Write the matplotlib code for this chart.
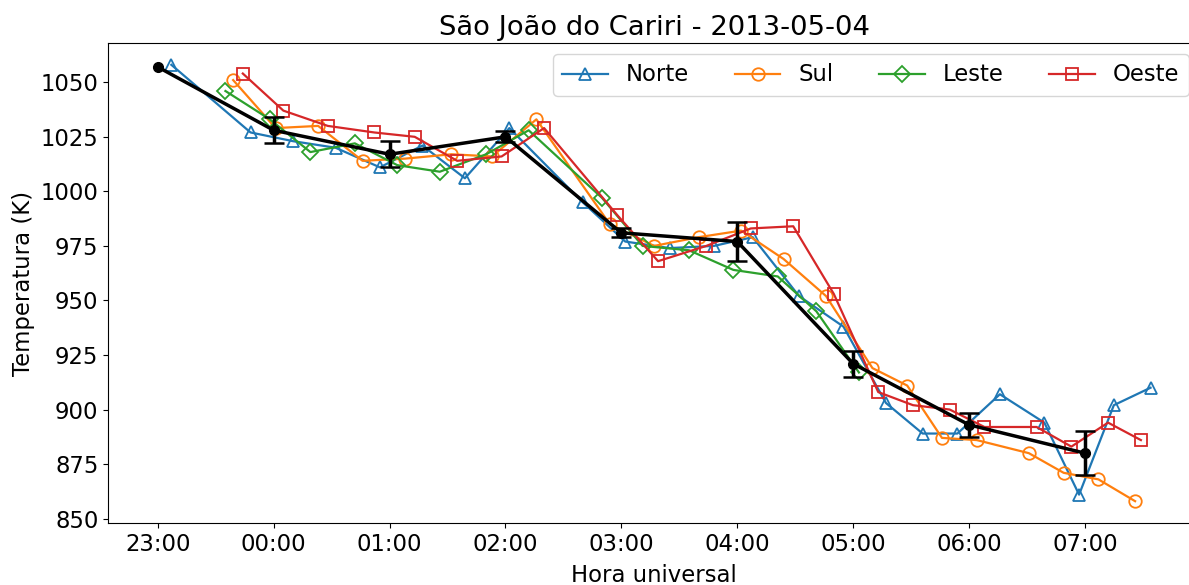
from datetime import datetime
import numpy as np
import matplotlib
matplotlib.use("Agg")
import matplotlib.pyplot as plt
import matplotlib.dates as mdates
from matplotlib.ticker import MultipleLocator

# leituras por direcao (hora UTC, temperatura em K)
norte_hora = ['23:07', '23:48', '00:10', '00:32', '00:55', '01:17', '01:39', '02:02', '02:40', '03:02',
              '03:25', '03:48', '04:08', '04:32', '04:55', '05:17', '05:36', '05:54', '06:16', '06:39',
              '06:57', '07:15', '07:34']
norte_temp = [1058, 1027, 1023, 1020, 1011, 1021, 1006, 1029, 995, 977,
              974, 975, 979, 952, 938, 903, 889, 889, 907, 894,
              861, 902, 910]

sul_hora = ['23:39', '00:01', '00:23', '00:46', '01:08', '01:32', '01:53', '02:16', '02:54', '03:17',
            '03:40', '04:02', '04:24', '04:46', '05:10', '05:28', '05:46', '06:04', '06:31', '06:49',
            '07:07', '07:26']
sul_temp = [1051, 1029, 1030, 1014, 1015, 1017, 1016, 1033, 985, 975,
            979, 982, 969, 952, 919, 911, 887, 886, 880, 871,
            868, 858]

leste_hora = ['23:35', '23:58', '00:19', '00:42', '01:04', '01:26', '01:50', '02:12', '02:50', '03:11',
              '03:35', '03:58', '04:21', '04:41', '05:03']
leste_temp = [1046, 1033, 1018, 1022, 1012, 1009, 1017, 1028, 997, 975,
              973, 964, 961, 945, 917]

oeste_hora = ['23:44', '00:05', '00:28', '00:52', '01:13', '01:35', '01:58', '02:20', '02:58', '03:19',
              '03:44', '04:07', '04:29', '04:50', '05:13', '05:31', '05:50', '06:08', '06:35', '06:53',
              '07:12', '07:29']
oeste_temp = [1054, 1037, 1030, 1027, 1025, 1014, 1016, 1029, 989, 968,
              975, 983, 984, 953, 908, 902, 900, 892, 892, 883,
              894, 886]

# media horaria e desvio (sem barra na primeira hora)
media_hora = ['23:00', '00:00', '01:00', '02:00', '03:00', '04:00', '05:00', '06:00', '07:00']
media_temp = [1057, 1028, 1017, 1025, 981, 977, 921, 893, 880]
media_erro = [np.nan, 6, 6, 2.5, 2, 9, 6, 5.5, 10]

hora_ticks = media_hora


def to_dt(horas):
    out = []
    for h in horas:
        dia = '2013-05-03' if int(h[:2]) >= 12 else '2013-05-04'
        out.append(datetime.strptime(f'{dia} {h}', '%Y-%m-%d %H:%M'))
    return out


plt.rcParams['font.size'] = 16.4

fig = plt.figure(figsize=(11.89, 5.85), dpi=100)
ax = fig.add_axes([0.091, 0.106, 0.9184, 0.8205])

ax.plot(to_dt(norte_hora), norte_temp, '-^', color='C0', mfc='none', ms=9, mew=1.3, lw=1.6, label='Norte')
ax.plot(to_dt(sul_hora), sul_temp, '-o', color='C1', mfc='none', ms=9, mew=1.3, lw=1.6, label='Sul')
ax.plot(to_dt(leste_hora), leste_temp, '-D', color='C2', mfc='none', ms=8.5, mew=1.3, lw=1.6, label='Leste')
ax.plot(to_dt(oeste_hora), oeste_temp, '-s', color='C3', mfc='none', ms=9, mew=1.3, lw=1.6, label='Oeste')

ax.errorbar(to_dt(media_hora), media_temp, yerr=media_erro, fmt='-o', color='k',
            lw=2.5, ms=7, capsize=7, elinewidth=2.5, capthick=1.8, zorder=5)

ax.set_xticks(to_dt(hora_ticks))
ax.xaxis.set_major_formatter(mdates.DateFormatter('%H:%M'))
ax.yaxis.set_major_locator(MultipleLocator(25))

ax.set_title('São João do Cariri - 2013-05-04')
ax.set_xlabel('Hora universal', labelpad=6)
ax.set_ylabel('Temperatura (K)')
ax.legend(loc='upper right', ncol=4)

fig.savefig('out.png', dpi=100)
